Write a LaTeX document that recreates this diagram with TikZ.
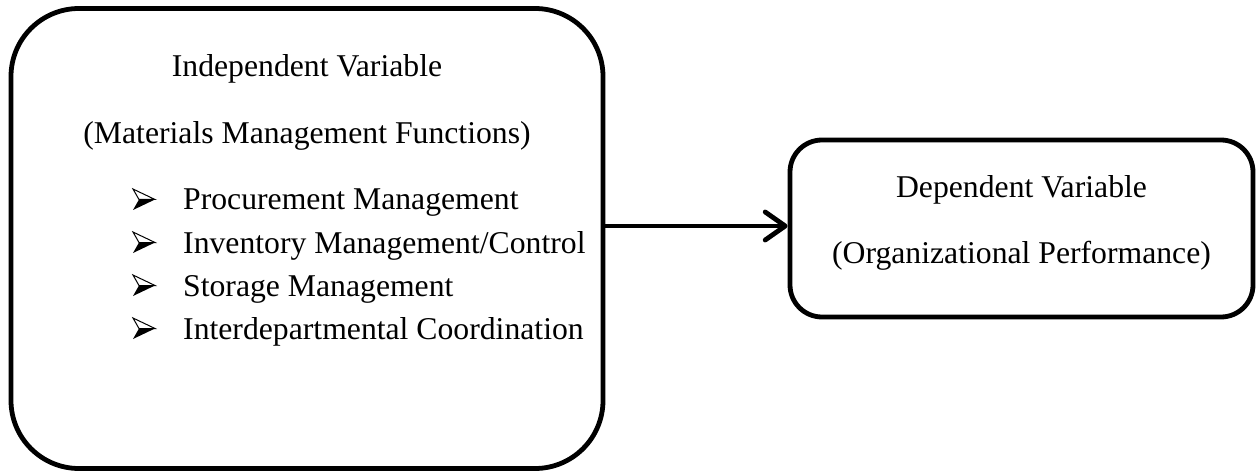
\documentclass[tikz,border=0pt]{standalone}
\usepackage{fontspec}
\setmainfont{Liberation Serif}
\usetikzlibrary{arrows.meta}
\begin{document}
\begin{tikzpicture}[x=1pt,y=-1pt,
  box/.style={draw, line width=4.8pt, inner sep=0pt},
  lbl/.style={font=\fontsize{31.7}{38}\selectfont, inner sep=0pt, anchor=base},
  item/.style={lbl, anchor=base west},
  conn/.style={line width=4.8pt, -{Straight Barb[length=20pt, width=28pt, round]}},
  arrbullet/.pic={
    \filldraw[line width=1pt, fill=white, line join=miter] (-11,-10.5) -- (11,0) -- (-5,0) -- cycle;
    \fill (-5,0) -- (11,0) -- (-11,10.5) -- cycle;
  }]
\useasboundingbox (0,0) rectangle (1258,473);
% boxes
\node[box, rounded corners=68pt, minimum width=592pt, minimum height=460pt] (ind) at (307,238.5) {};
\node[box, rounded corners=32pt, minimum width=463pt, minimum height=177pt] (dep) at (1021.5,228.5) {};
% texts left
\node[lbl] (t1) at (307,76.5) {Independent Variable};
\node[lbl] (t2) at (307,143.5) {(Materials Management Functions)};
\node[item] (i1) at (183,210) {Procurement Management};
\node[item] (i2) at (183,253) {Inventory Management/Control};
\node[item] (i3) at (183,296) {Storage Management};
\node[item] (i4) at (183,339) {Interdepartmental Coordination};
\foreach \n in {i1,i2,i3,i4}{
  \pic at ([xshift=-39pt, yshift=10.5pt]\n.base west) {arrbullet};
}
% texts right
\node[lbl] (r1) at (1021.5,198) {Dependent Variable};
\node[lbl] (r2) at (1021.5,263) {(Organizational Performance)};
% connector
\coordinate (ay) at (0,226);
\draw[conn] (ind.east |- ay) -- (dep.west |- ay);
\end{tikzpicture}
\end{document}
